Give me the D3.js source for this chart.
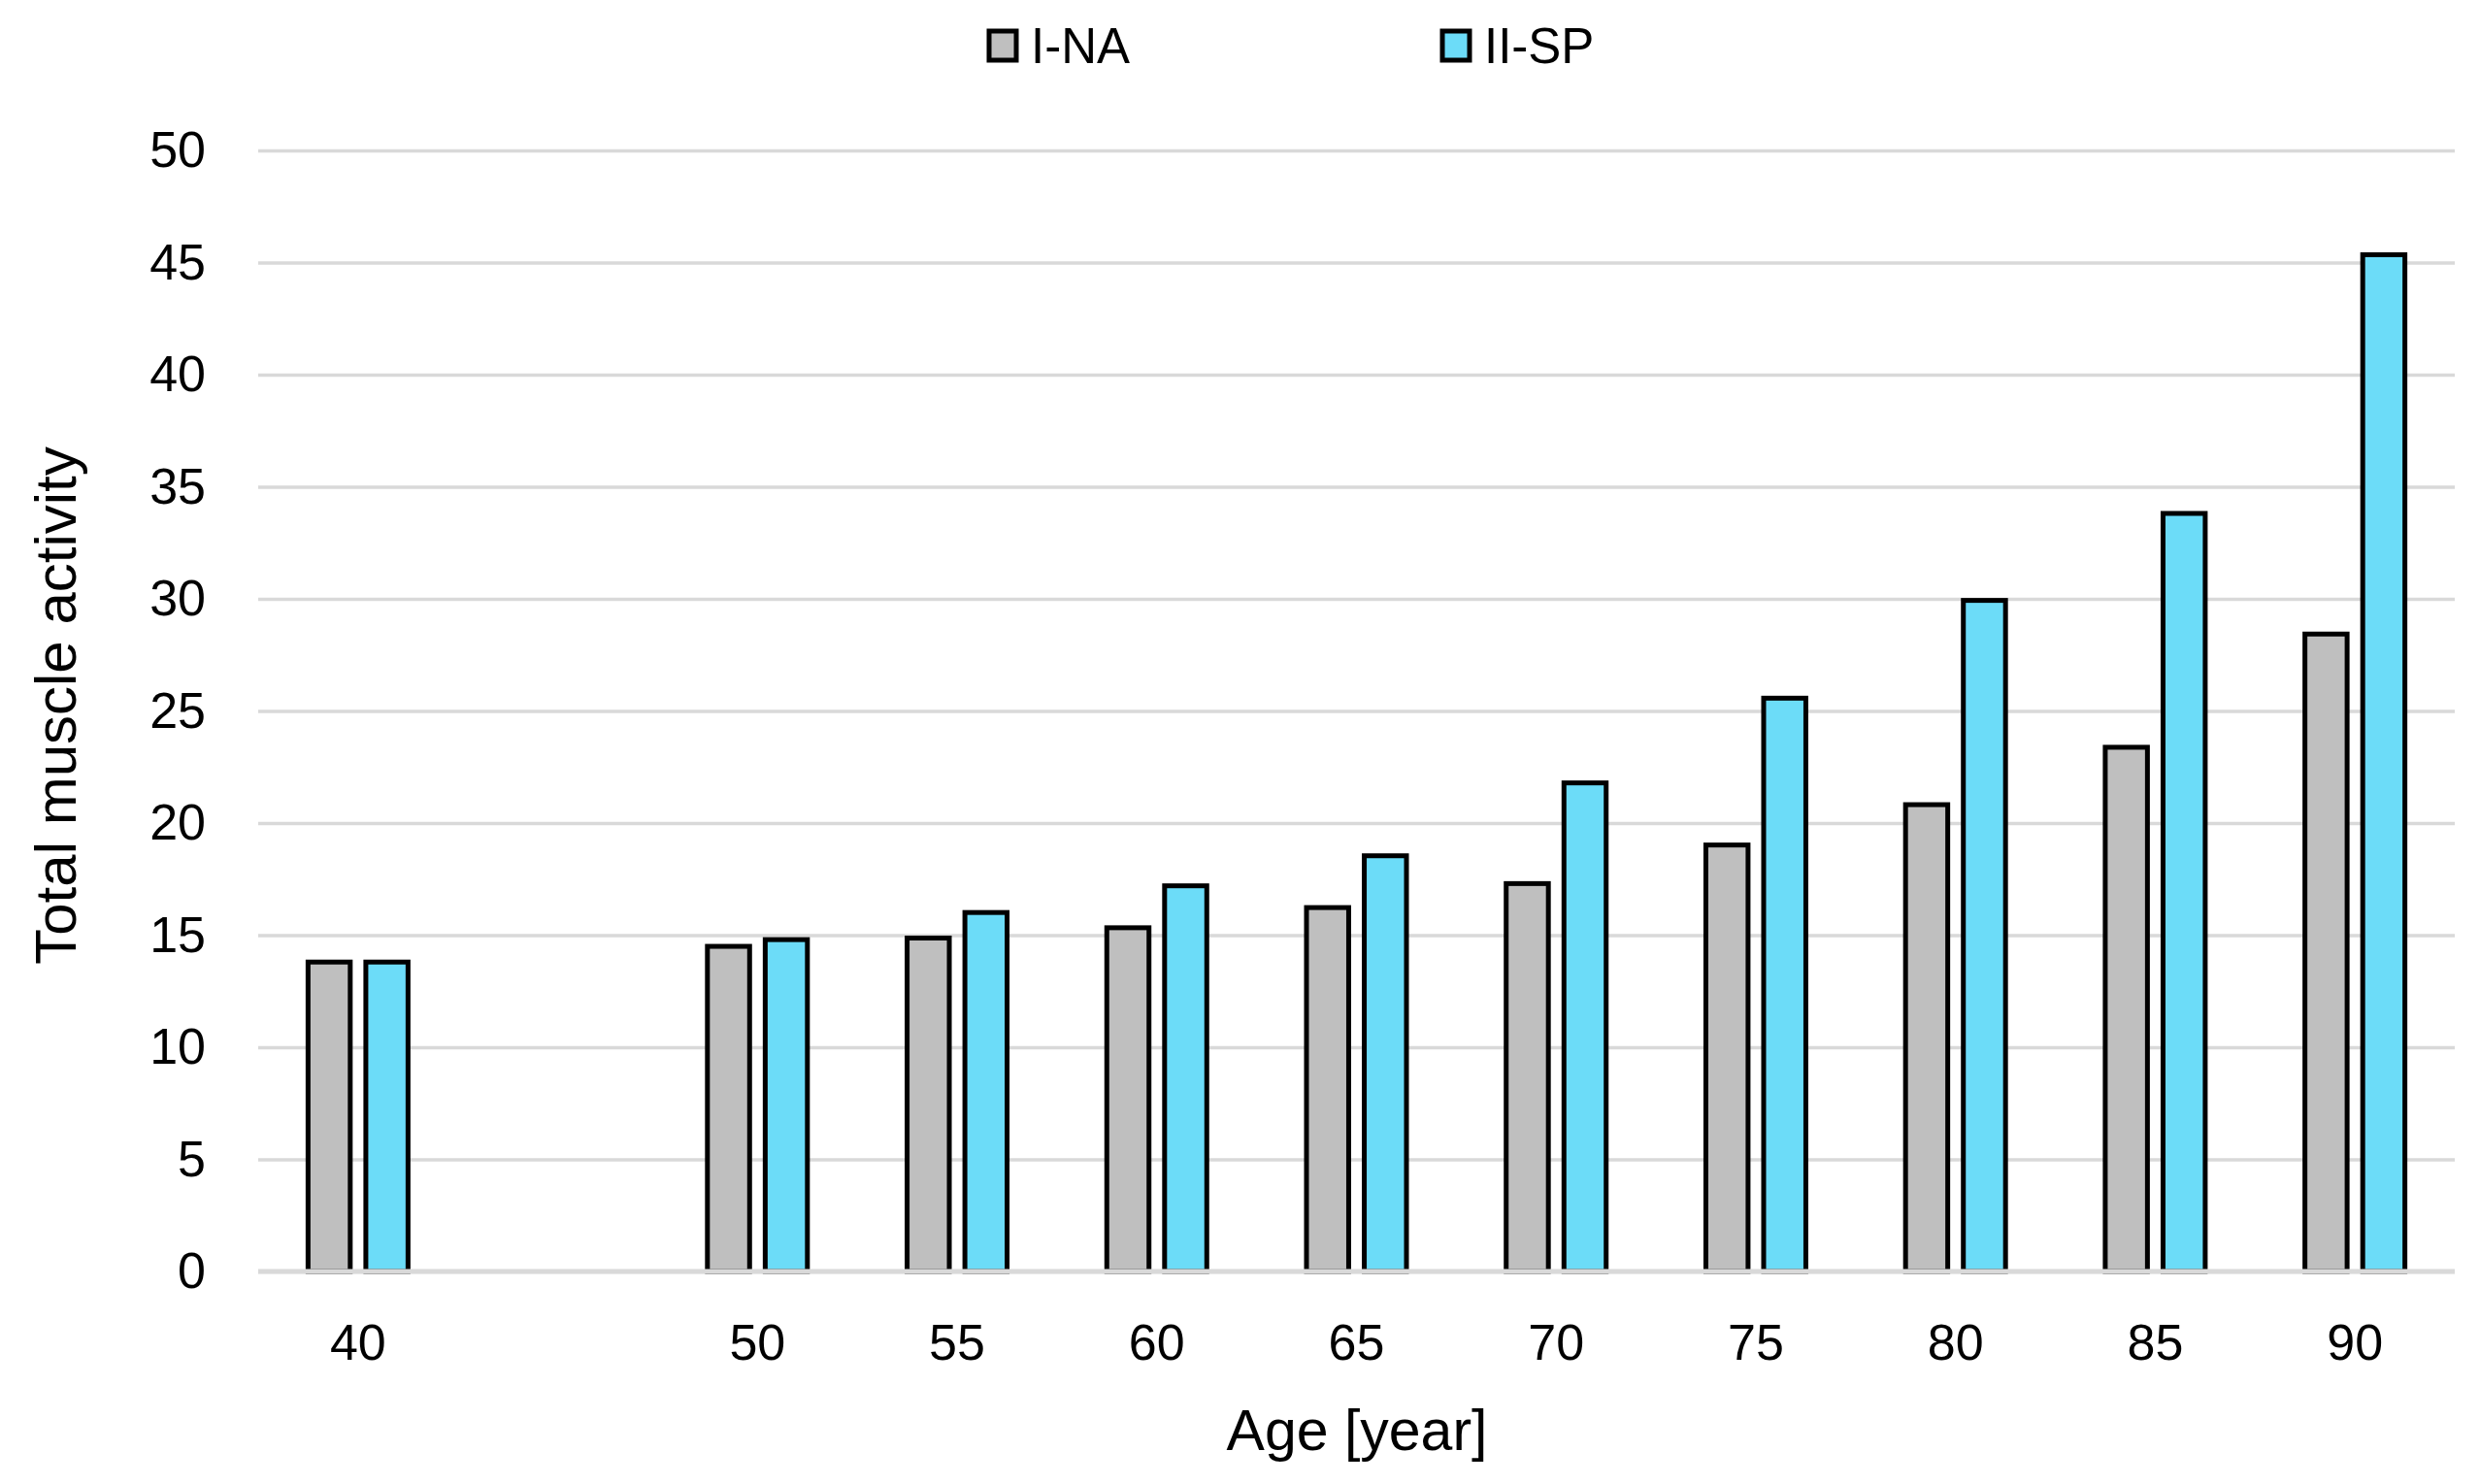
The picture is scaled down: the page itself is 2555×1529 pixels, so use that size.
<!DOCTYPE html>
<html>
<head>
<meta charset="utf-8">
<script src="https://cdn.jsdelivr.net/npm/d3@7"></script>
<style>
  body { margin: 0; background: #fff; }
  svg { display: block; font-family: "Liberation Sans", Arial, sans-serif; }
</style>
</head>
<body>
<svg id="chart" width="2555" height="1529"></svg>
<script>
// Data
const ages = ["40", "45", "50", "55", "60", "65", "70", "75", "80", "85", "90"];
const ageLabels = ["40", "", "50", "55", "60", "65", "70", "75", "80", "85", "90"];
const seriesNames = ["I-NA", "II-SP"];
const seriesColors = ["#bfbfbf", "#6cdcf8"];
const naValues = [13.8, null, 14.5, 14.87, 15.33, 16.23, 17.3, 19.02, 20.82, 23.38, 28.43];
const spValues = [13.8, null, 14.8, 16.01, 17.2, 18.54, 21.79, 25.57, 29.93, 33.81, 45.35];
const yTicks = [0, 5, 10, 15, 20, 25, 30, 35, 40, 45, 50];

const svg = d3.select("#chart");
const margin = { top: 155, right: 26, bottom: 219, left: 266 };
const W = 2555, H = 1529;

const x = d3.scaleBand()
    .domain(ages)
    .range([margin.left, W - margin.right])
    .padding(0);

const sub = d3.scaleBand()
    .domain(seriesNames)
    .range([-51.5, 51.5])
    .paddingInner(0.27);

const y = d3.scaleLinear()
    .domain([0, 50])
    .range([H - margin.bottom, margin.top]);

// Gridlines + y tick labels
const yAxis = svg.append("g")
    .attr("transform", `translate(${margin.left},0)`)
    .call(d3.axisLeft(y)
        .tickValues(yTicks)
        .tickSize(-(W - margin.left - margin.right))
        .tickPadding(54));
yAxis.select(".domain").remove();
yAxis.selectAll(".tick line")
    .attr("stroke", "#d9d9d9")
    .attr("stroke-width", 3.5);
yAxis.selectAll(".tick text")
    .attr("fill", "#000")
    .style("font-size", "52px");

// Bars
const rows = ages.map((a, i) => ({ age: a, values: [naValues[i], spValues[i]] }));

const groups = svg.append("g")
    .selectAll("g")
    .data(rows)
    .enter().append("g")
    .attr("transform", d => `translate(${x(d.age) + x.bandwidth() / 2},0)`);

groups.selectAll("rect")
    .data(d => d.values.map((v, j) => ({ name: seriesNames[j], value: v, color: seriesColors[j] }))
        .filter(e => e.value != null))
    .enter().append("rect")
    .attr("x", e => sub(e.name))
    .attr("width", sub.bandwidth())
    .attr("y", e => y(e.value))
    .attr("height", e => y(0) - y(e.value))
    .attr("fill", e => e.color)
    .attr("stroke", "#000")
    .attr("stroke-width", 5);

// baseline drawn over bar bottoms
svg.append("line")
    .attr("x1", margin.left)
    .attr("x2", W - margin.right)
    .attr("y1", y(0))
    .attr("y2", y(0))
    .attr("stroke", "#d9d9d9")
    .attr("stroke-width", 5);

// X axis labels
const xAxis = svg.append("g")
    .attr("transform", `translate(0,${y(0)})`)
    .call(d3.axisBottom(x)
        .tickSize(0)
        .tickPadding(54)
        .tickFormat((d, i) => ageLabels[i]));
xAxis.select(".domain").remove();
xAxis.selectAll(".tick text")
    .attr("fill", "#000")
    .style("font-size", "52px");

// Axis titles
svg.append("text")
    .attr("x", 1398)
    .attr("y", 1494)
    .attr("text-anchor", "middle")
    .style("font-size", "59px")
    .text("Age [year]");

svg.append("text")
    .attr("transform", "translate(78,727) rotate(-90)")
    .attr("text-anchor", "middle")
    .style("font-size", "60px")
    .text("Total muscle activity");

// Legend
const legendX = [1017, 1484];
const legend = svg.append("g")
    .selectAll("g")
    .data(seriesNames)
    .enter().append("g")
    .attr("transform", (d, i) => `translate(${legendX[i]},31)`);

legend.append("rect")
    .attr("x", 2)
    .attr("y", 1)
    .attr("width", 28)
    .attr("height", 30)
    .attr("fill", (d, i) => seriesColors[i])
    .attr("stroke", "#000")
    .attr("stroke-width", 5);

legend.append("text")
    .attr("x", 45)
    .attr("y", 34)
    .style("font-size", "51px")
    .text(d => d);
</script>
</body>
</html>
